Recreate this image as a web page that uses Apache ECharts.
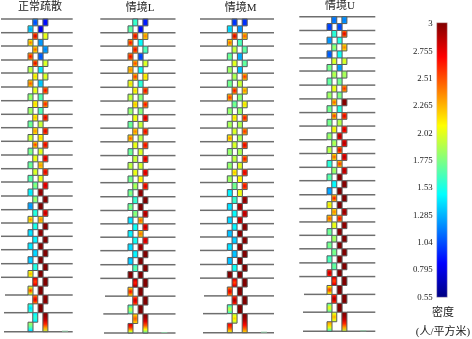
<!DOCTYPE html>
<html><head><meta charset="utf-8">
<style>html,body{margin:0;padding:0;background:#fff}#c{width:472px;height:339px}</style>
<script src="https://cdn.jsdelivr.net/npm/echarts@6/dist/echarts.min.js"></script>
</head><body><div id="c"></div>
<script>
// ---- tick labels and titles
const panelNames = ['正常疏散', '情境L', '情境M', '情境U'];
const barTicks = [0.55, 0.795, 1.04, 1.285, 1.53, 1.775, 2.02, 2.265, 2.51, 2.755, 3];
const barTitle = ['密度', '(人/平方米)'];
const jet = ['#000080','#0000ff','#0080ff','#00ffff','#80ff80','#ffff00','#ff8000','#ff0000','#800000'];
// floor elevation (top to bottom)
const floorElev = [312.7,299,285.7,271.7,258.7,244.7,231,217.4,204,190.4,176.7,163,149.7,135.7,122,108.7,95.4,82,68,54.4,36.7,19,0];
// ---- density per flight, rows top to bottom; A/B upper half, C/D lower half; *c = peak inside the flight
const p1A =[1.2,2.3,2.0,2.2,1.9,1.85,2.0,2.0,2.05,1.95,1.9,1.85,1.6,1.65,1.45,1.4,1.35,1.3,1.45,2.8,2.4,1.45];
const p1Ac=[1.0,2.85,2.5,2.8,2.2,2.1,2.2,2.25,2.35,2.6,2.1,2.05,1.85,1.9,1.6,1.6,1.5,1.4,1.6,2.5,2.8,1.6];
const p1B =[0.95,1.9,1.3,1.85,1.8,2.3,2.2,2.4,2.4,2.4,2.5,2.45,2.6,2.95,2.55,2.95,3,3,3,3,2.95,1.9];
const p1Bc=[0.85,2.1,1.15,2.05,2.1,2.7,2.65,2.8,2.8,2.8,2.85,2.8,2.85,3,2.9,3,3,3,3,3,3,3];
const p1C =[1.5,1.9,2.2,1.75,2.1,1.7,1.75,1.6,1.8,1.6,1.6,1.55,1.5,1.3,1.9,1.3,1.35,1.25,1.9,1.95,1.6,1.2];
const p1Cc=[1.2,2.45,2.7,2.0,2.5,1.9,1.9,1.8,2.05,1.85,1.8,1.75,1.4,1.2,2.4,1.45,1.45,1.4,2.3,2.6,1.35,1.85];
const p1D =[0.9,1.25,1.15,1.45,1.4,1.6,1.6,1.85,2.0,1.8,2.1,1.9,2.85,3,2.1,2.9,2.95,3,3,3,3,null];
const p1Dc=[0.8,1.2,1.05,1.4,1.3,1.7,1.7,2.0,2.2,2.1,2.35,2.1,3,3,2.4,3,3,3,3,3,3,null];

const p2A =[1.5,2.3,2.3,2.1,2.1,1.9,2.0,1.95,2.05,1.9,1.85,1.9,1.7,1.5,1.65,1.4,1.4,1.35,1.5,2.9,2.5,2.2];
const p2Ac=[1.65,2.8,2.75,2.55,2.6,2.2,2.25,2.1,2.4,2.1,2.0,2.1,1.95,1.65,1.85,1.55,1.55,1.5,1.75,2.6,2.85,2.5];
const p2B =[0.95,2.1,1.55,1.85,2.0,2.3,2.25,2.5,2.4,2.4,2.5,2.55,2.45,3,2.7,2.55,2.6,3,3,3,3,1.6];
const p2Bc=[0.9,2.4,1.7,2.05,2.2,2.75,2.7,2.85,2.75,2.75,2.85,2.85,2.85,3,2.95,2.9,2.85,3,3,3,3,3];
const p2C =[1.6,2.2,2.3,2.1,1.85,1.8,1.7,1.6,2.0,1.6,1.8,1.65,1.6,1.6,1.3,1.35,1.35,1.25,3,2.2,1.6,1.6];
const p2Cc=[1.75,2.7,2.75,2.4,2.2,2.0,1.9,1.8,2.5,1.8,2.0,1.8,1.85,1.85,1.45,1.5,1.4,1.4,3,2.7,2.0,2.8];
const p2D =[0.95,1.5,1.1,1.45,1.5,1.7,1.7,1.85,1.85,1.85,1.85,2.0,2.9,3,2.1,2.1,2.8,3,3,3,3,null];
const p2Dc=[0.85,1.45,1.0,1.5,1.6,1.85,1.85,2.0,1.95,2.05,2.05,2.15,3,3,2.5,2.45,3,3,3,3,3,null];

const p3A =[1.05,2.3,1.8,1.9,1.75,2.2,1.6,1.95,1.85,1.85,1.8,1.95,1.65,1.5,1.4,1.35,1.25,1.25,1.4,2.8,2.6,1.95];
const p3Ac=[0.95,2.85,2.0,2.05,1.95,2.7,1.8,2.2,2.05,2.05,2.0,2.25,1.8,1.65,1.5,1.5,1.4,1.35,1.55,2.5,2.95,2.2];
const p3B =[1.0,2.1,1.6,1.6,2.1,2.0,1.9,2.25,2.2,2.4,2.25,2.5,2.4,2.85,2.7,2.95,2.95,3,3,3,3,2.1];
const p3Bc=[0.95,2.5,1.75,1.75,2.6,2.4,2.2,2.7,2.6,2.8,2.7,2.8,2.75,3,2.9,3,3,3,3,3,3,3];
const p3C =[1.5,2.0,1.6,1.75,1.65,2.1,1.7,1.75,1.9,1.7,1.7,1.75,1.35,1.3,1.3,1.25,1.3,1.25,3,2.4,1.6,1.9];
const p3Cc=[1.3,2.5,1.8,1.9,1.8,2.6,1.9,1.95,2.4,1.9,1.9,1.9,1.5,1.45,1.4,1.35,1.45,1.35,3,2.8,2.0,2.7];
const p3D =[1.25,1.55,1.3,1.35,1.85,1.7,1.75,1.8,1.75,1.75,1.85,2.0,1.95,2.85,2.7,2.95,3,3,3,3,3,null];
const p3Dc=[1.2,1.7,1.25,1.3,2.0,1.85,1.9,1.95,1.95,1.95,2.1,2.15,2.1,2.95,2.95,3,3,3,3,3,3,null];

const p4A =[1.2,1.5,1.6,1.85,1.75,1.9,2.0,2.0,1.9,1.7,2.0,1.7,1.4,2.1,2.05,1.9,1.75,1.65,1.6,2.8,2.6,2.0];
const p4Ac=[1.1,1.6,1.9,2.05,1.95,2.1,2.5,2.6,2.15,1.95,2.5,1.9,1.5,2.7,2.4,2.1,1.9,1.8,1.75,2.5,2.95,2.3];
const p4B =[1.25,2.3,2.05,1.85,1.8,2.2,2.95,2.4,2.5,2.65,2.6,2.7,2.95,3,2.75,2.9,3,3,3,3,3,1.9];
const p4Bc=[1.15,2.8,2.4,2.05,1.9,2.6,3,2.8,2.85,2.9,2.9,2.9,3,3,3,3,3,3,3,3,3,3];
const p4C =[1.05,1.25,1.15,1.65,1.6,1.75,1.65,1.65,1.7,1.75,1.5,1.55,1.15,1.9,2.1,1.6,1.65,1.55,2.5,2.1,1.7,1.5];
const p4Cc=[1.0,1.2,1.05,1.8,1.75,1.9,1.8,1.8,1.9,2.0,1.6,1.75,1.3,2.2,2.5,1.8,1.8,1.7,2.9,2.6,2.1,2.3];
const p4D =[1.1,1.45,1.5,1.3,1.65,1.65,1.5,1.8,2.6,2.3,2.1,2.95,3,3,2.3,2.95,3,3,3,3,3,null];
const p4Dc=[1.0,1.6,1.5,1.2,1.8,1.85,1.6,1.95,2.95,2.8,2.6,3,3,3,2.7,3,3,3,3,3,3,null];

// ---- panel layout (pixels on the page)
const panelLayout = [
  {left:1,     span:71.7, top:19,   height:312.7, stair:27,   tx:40,    ty:7.5, inset:[4,3,3],     data:[[p1A,p1Ac],[p1B,p1Bc],[p1C,p1Cc],[p1D,p1Dc]]},
  {left:100.3, span:75.2, top:19,   height:314,   stair:27.7, tx:140,   ty:8,   inset:[4.7,3,3.7], data:[[p2A,p2Ac],[p2B,p2Bc],[p2C,p2Cc],[p2D,p2Dc]]},
  {left:200,   span:74,   top:19,   height:313.7, stair:27.3, tx:240.7, ty:8.5, inset:[4,3,3],     data:[[p3A,p3Ac],[p3B,p3Bc],[p3C,p3Cc],[p3D,p3Dc]]},
  {left:299.3, span:76,   top:16.7, height:314.6, stair:27.7, tx:340,   ty:6,   inset:[4.7,3.7,3.7],data:[[p4A,p4Ac],[p4B,p4Bc],[p4C,p4Cc],[p4D,p4Dc]]}
];
const colOffset = [4.75, 14.9, 0, 10.1]; // A, B, C, D
const colWidth = 5;
const serif = "'Liberation Serif','Noto Sans CJK SC',serif";

function hex(c){return [1,3,5].map(i=>parseInt(c.substr(i,2),16));}
function jetColor(v){
  const t=Math.max(0,Math.min(1,(v-0.55)/2.45))*(jet.length-1);
  const i=Math.min(jet.length-2,Math.floor(t)),f=t-i,a=hex(jet[i]),b=hex(jet[i+1]);
  return 'rgb('+a.map((x,k)=>Math.round(x+(b[k]-x)*f)).join(',')+')';
}

const option = {
  animation:false, backgroundColor:'#fff',
  title:[], grid:[], xAxis:[], yAxis:[], series:[]
};

panelLayout.forEach((p,pi)=>{
  option.title.push({text:panelNames[pi],left:p.tx,top:p.ty,textAlign:'center',textVerticalAlign:'middle',
    padding:0,textStyle:{fontFamily:serif,fontSize:11,fontWeight:'normal',color:'#222'}});
  option.grid.push({left:p.left,top:p.top,width:p.span,height:p.height,containLabel:false});
  option.xAxis.push({type:'value',gridIndex:pi,min:0,max:p.span,show:false});
  option.yAxis.push({type:'value',gridIndex:pi,min:0,max:floorElev[0],show:false});
  // slabs
  const n=floorElev.length, stairEnd=p.stair+colOffset[1]+colWidth, slabs=[];
  floorElev.forEach((y,k)=>{
    const ins=k>=n-3?p.inset[k-(n-3)]:0;
    if(k===0||k===n-1) slabs.push([ins,p.span,y]);
    else { slabs.push([ins,p.stair,y]); slabs.push([stairEnd,p.span,y]); }
  });
  option.series.push({type:'custom',xAxisIndex:pi,yAxisIndex:pi,silent:true,z:1,clip:false,data:slabs,
    renderItem:(o,api)=>{
      const a=api.coord([api.value(0),api.value(2)]),b=api.coord([api.value(1),api.value(2)]);
      return {type:'line',shape:{x1:a[0],y1:a[1],x2:b[0],y2:b[1]},style:{stroke:'#6e6e6e',lineWidth:1.5}};
    }});
  // small exit mark
  option.series.push({type:'custom',xAxisIndex:pi,yAxisIndex:pi,silent:true,z:2,clip:false,data:[[61,67,0]],
    renderItem:(o,api)=>{
      const a=api.coord([api.value(0),api.value(2)]),b=api.coord([api.value(1),api.value(2)]);
      return {type:'line',shape:{x1:a[0],y1:a[1]-0.5,x2:b[0],y2:b[1]-0.5},style:{stroke:'#8cc4a0',lineWidth:1}};
    }});
  // flights
  const cells=[];
  p.data.forEach((pair,c)=>{
    pair[0].forEach((v,r)=>{
      if(v===null) return;
      const yT=floorElev[r],yB=floorElev[r+1],mid=(yT+yB)/2;
      const full=r===n-2&&c===1;
      const top=full?yT:(c<2?yT:mid), bot=full?yB:(c<2?mid:yB);
      cells.push([p.stair+colOffset[c],p.stair+colOffset[c]+colWidth,top,bot,v,pair[1][r],r===n-2&&c!==0?1:0]);
    });
  });
  option.series.push({type:'custom',xAxisIndex:pi,yAxisIndex:pi,silent:true,z:3,clip:false,data:cells,
    renderItem:(o,api)=>{
      const a=api.coord([api.value(0),api.value(2)]),b=api.coord([api.value(1),api.value(3)]);
      const base=api.value(4),core=api.value(5),lin=api.value(6);
      let fill;
      if(lin){
        const stops=[0,.2,.4,.6,.8,1].map(t=>({offset:t,color:jetColor(core+(base-core)*t*t)}));
        fill=new echarts.graphic.LinearGradient(0,0,0,1,stops);
      } else {
        fill=new echarts.graphic.RadialGradient(.5,.5,.6,[{offset:0,color:jetColor(core)},{offset:.6,color:jetColor((core+base)/2)},{offset:1,color:jetColor(base)}]);
      }
      return {type:'rect',shape:{x:a[0],y:a[1],width:b[0]-a[0],height:b[1]-a[1]},style:{fill:fill,stroke:'#5a5a5a',lineWidth:1}};
    }});
});

// colour bar: value axis, rect spans from the lowest tick to just above the highest
const barExtent = [0.55, 3.0117];
const bg=panelLayout.length;
option.grid.push({left:436.7,top:22.7,width:10.6,height:274.6});
option.xAxis.push({type:'value',gridIndex:bg,min:0,max:1,show:false});
option.yAxis.push({type:'value',gridIndex:bg,min:barExtent[0],max:barExtent[1],position:'left',
  axisLine:{show:false},axisTick:{show:false},splitLine:{show:false},
  axisLabel:{show:true,customValues:barTicks,margin:4,formatter:v=>String(v),
    fontFamily:serif,fontSize:8.8,color:'#222'}});
option.series.push({type:'custom',xAxisIndex:bg,yAxisIndex:bg,silent:true,clip:false,data:[[0,1,barExtent[0],barExtent[1]]],
  renderItem:(o,api)=>{
    const a=api.coord([api.value(0),api.value(3)]),b=api.coord([api.value(1),api.value(2)]);
    const stops=jet.map((c,i)=>({offset:1-i/(jet.length-1),color:c})).reverse();
    return {type:'rect',shape:{x:a[0],y:a[1],width:b[0]-a[0],height:b[1]-a[1]},
      style:{fill:new echarts.graphic.LinearGradient(0,0,0,1,stops),stroke:'#d8c8c8',lineWidth:.5}};
  }});
barTitle.forEach((t,i)=>option.title.push({text:t,left:443,top:i?331.7:313,textAlign:'center',textVerticalAlign:'middle',padding:0,
  textStyle:{fontFamily:serif,fontSize:i?11:11,fontWeight:'normal',color:'#222'}}));

echarts.init(document.getElementById('c')).setOption(option);
</script></body></html>
